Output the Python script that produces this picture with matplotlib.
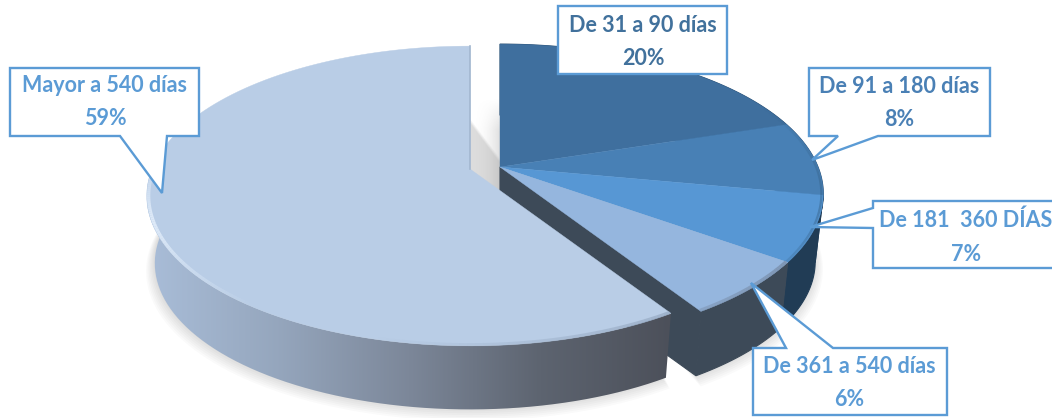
import numpy as np
import matplotlib
matplotlib.use("Agg")
import matplotlib.pyplot as plt
from matplotlib.patches import Polygon
from matplotlib.colors import LinearSegmentedColormap

# =========================
# DATA
# =========================
labels = ["De 31 a 90 días", "De 91 a 180 días", "De 181  360 DÍAS", "De 361 a 540 días", "Mayor a 540 días"]
values = [20, 8, 7, 6, 59]

# =========================
# STYLE
# =========================
top_colors = ["#3f6f9e", "#4880b5", "#5797d4", "#95b6de", "#b9cde6"]
wall_colors = ["#2a4d6e", "#26486a", "#213c55", "#3d4a58"]
text_colors = ["#41719c", "#4a80b5", "#5b9bd5", "#5b9bd5", "#5b9bd5"]
border = "#5b9bd5"

# pie geometry in pixels
RX, RY, PERSP = 318, 145, 0.18
DROP, BOTTOM_SCALE = 68, 0.975
RIGHT_APEX = (500, 167)
LEFT_APEX = (470, 169)

# callouts: box (x0, y0, x1, y1), pointer base on one side, tip, text centre
callouts = [
    dict(box=(558, 6, 727, 74), base=None, tip=None, text=(643, 42)),
    dict(box=(809, 68, 990, 136), base=((838, 136), (878, 136)), tip=(812, 160), text=(899, 103)),
    dict(box=(873, 201, 1060, 268), base=((873, 208), (873, 228)), tip=(810, 227), text=(966, 237)),
    dict(box=(753, 348, 947, 415), base=((786, 348), (833, 348)), tip=(751, 283), text=(849, 383)),
    dict(box=(10, 68, 199, 136), base=((120, 136), (167, 136)), tip=(162, 193), text=(105, 102)),
]


def project(theta, apex, scale=1.0, drop=0.0):
    # theta clockwise from the top, nearer points come out bigger
    w = 1 + PERSP * np.cos(theta)
    x = apex[0] + RX * np.sin(theta) / w * scale
    y = apex[1] - RY * np.cos(theta) / w * scale + drop
    return np.column_stack([x, y])


def arc(t0, t1, n=120):
    return np.linspace(t0, t1, n)


def wall_points(t0, t1, apex):
    th = arc(t0, t1)
    return np.vstack([project(th, apex), project(th[::-1], apex, BOTTOM_SCALE, DROP)])


def fading_rim(t0, t1, apex, color, lw, a0, a1, zorder):
    # rim line whose alpha runs from a0 to a1
    pts = project(arc(t0, t1, 40), apex, 0.994)
    for i in range(len(pts) - 1):
        alpha = a0 + (a1 - a0) * i / (len(pts) - 2)
        ax.plot(pts[i:i + 2, 0], pts[i:i + 2, 1], color=color, lw=lw, alpha=alpha,
                solid_capstyle="butt", zorder=zorder)


fig = plt.figure(figsize=(10.52, 4.18), dpi=100)
ax = fig.add_axes([0, 0, 1, 1])

edges = np.cumsum([0] + values) / sum(values) * 2 * np.pi

# =========================
# SHADOWS
# =========================
for i in range(7):
    th = arc(edges[4], edges[5])
    pts = project(th, (LEFT_APEX[0] - 1, LEFT_APEX[1]), BOTTOM_SCALE + 0.004 * i, DROP + 1.2 * i)
    ax.add_patch(Polygon(pts, fc="#000000", ec="none", alpha=0.02, zorder=1))
    th = arc(edges[1], edges[4])
    pts = np.vstack([project(th, RIGHT_APEX, BOTTOM_SCALE + 0.004 * i, DROP + 1.2 * i), [RIGHT_APEX]])
    ax.add_patch(Polygon(pts, fc="#000000", ec="none", alpha=0.02, zorder=1))

# shadow in the gap between the two parts
gap = np.zeros((60, 30, 4))
gap[..., :3] = 0.6
fade_x = np.linspace(0, 1, 30) ** 2
fade_y = np.clip(np.linspace(0, 3, 60), 0, 1)
gap[..., 3] = 0.3 * fade_x * fade_y[:, None]
ax.imshow(gap, extent=(RIGHT_APEX[0] - 28, RIGHT_APEX[0], 195, 98), aspect="auto", zorder=2)

# =========================
# RIGHT PART
# =========================
tip_top = project(edges[4], RIGHT_APEX)[0]
tip_bot = project(edges[4], RIGHT_APEX, BOTTOM_SCALE, DROP)[0]
ax.add_patch(Polygon([RIGHT_APEX, tip_top, tip_bot, (RIGHT_APEX[0], RIGHT_APEX[1] + DROP)],
                     fc=wall_colors[3], ec=wall_colors[3], lw=0.8, zorder=3))
for i in range(4):
    ax.add_patch(Polygon(wall_points(edges[i], edges[i + 1], RIGHT_APEX),
                         fc=wall_colors[i], ec=wall_colors[i], lw=0.8, zorder=4))
for i in range(4):
    pts = np.vstack([[RIGHT_APEX], project(arc(edges[i], edges[i + 1]), RIGHT_APEX)])
    ax.add_patch(Polygon(pts, fc=top_colors[i], ec=top_colors[i], lw=0.3, zorder=5))

# soft bevel on the rim
fading_rim(edges[0] + 1.1, edges[2] + 0.1, RIGHT_APEX, "#2f5677", 1.6, 0.0, 0.4, 6)
fading_rim(edges[2] + 0.1, edges[3], RIGHT_APEX, "#2f5677", 1.6, 0.4, 0.2, 6)
fading_rim(edges[3], edges[4], RIGHT_APEX, "#6f8098", 2.4, 0.6, 0.35, 6)

# =========================
# LEFT PART
# =========================
wall_cmap = LinearSegmentedColormap.from_list(
    "wall", ["#a9bdd8", "#95a6bd", "#7c8799", "#5d6470", "#4c505a"])
wall_poly = Polygon(wall_points(edges[4], edges[5], LEFT_APEX), fc="none", ec="none", zorder=7)
ax.add_patch(wall_poly)
grad = ax.imshow(np.linspace(0, 1, 256)[None, :], cmap=wall_cmap,
                 extent=(147, 672, 418, 150), aspect="auto", zorder=7)
grad.set_clip_path(wall_poly)

pts = np.vstack([[LEFT_APEX], project(arc(edges[4], edges[5]), LEFT_APEX)])
ax.add_patch(Polygon(pts, fc=top_colors[4], ec=top_colors[4], lw=0.3, zorder=8))

# cut line at the top and bevel on the rim
cut = project(np.array([edges[5], edges[5]]), LEFT_APEX, 1.0)
ax.plot([LEFT_APEX[0], cut[0, 0]], [LEFT_APEX[1], cut[0, 1]], color="#a3b7d0", lw=1.2, zorder=9)
fading_rim(np.radians(215), np.radians(250), LEFT_APEX, "#e3eefb", 2.4, 0.0, 0.9, 9)
fading_rim(np.radians(250), np.radians(280), LEFT_APEX, "#e3eefb", 2.4, 0.9, 0.0, 9)
fading_rim(edges[4], np.radians(195), LEFT_APEX, "#8fa2bb", 2.4, 0.6, 0.0, 9)

# =========================
# CALLOUTS
# =========================
for i, c in enumerate(callouts):
    x0, y0, x1, y1 = c["box"]
    outline = [(x0, y0), (x1, y0), (x1, y1), (x0, y1)]
    if c["tip"] is not None:
        a, b = c["base"]
        if a[0] == b[0] == x0:
            # pointer on the left side
            outline = [(x0, y0), (x1, y0), (x1, y1), (x0, y1), b, c["tip"], a]
        elif a[1] == b[1] == y0:
            # pointer on the top side
            outline = [(x0, y0), a, c["tip"], b, (x1, y0), (x1, y1), (x0, y1)]
        else:
            # pointer on the bottom side
            outline = [(x0, y0), (x1, y0), (x1, y1), b, c["tip"], a, (x0, y1)]
    ax.add_patch(Polygon(outline, closed=True, fc="white", ec=border, lw=1.7,
                         joinstyle="miter", zorder=10))
    ax.text(c["text"][0], c["text"][1], f"{labels[i]}\n{values[i]}%", ha="center", va="center",
            family="Lato", weight="bold", fontsize=15.5, linespacing=1.75,
            color=text_colors[i], zorder=11)

ax.set_xlim(0, 1052)
ax.set_ylim(418, 0)
ax.axis("off")

plt.savefig("out.png", dpi=100)
